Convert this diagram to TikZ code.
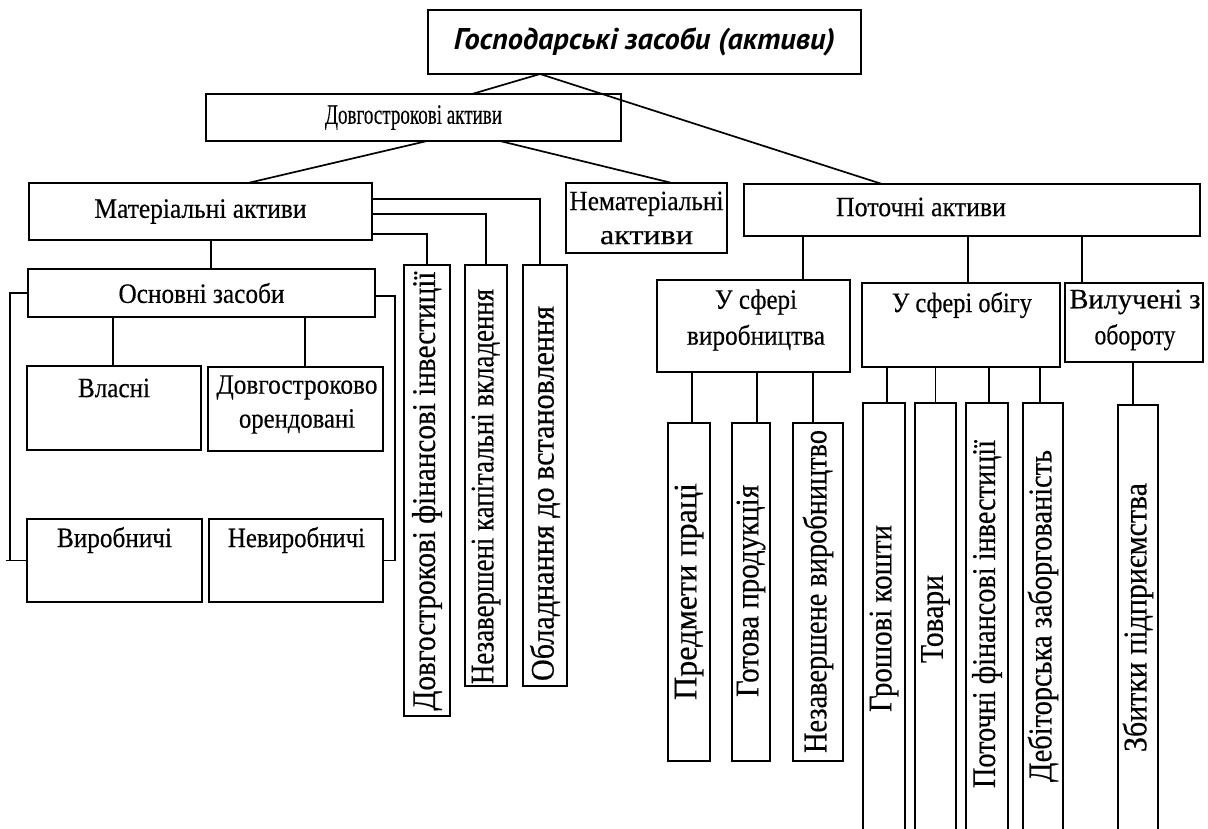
\documentclass[tikz,border=0pt]{standalone}
\usepackage{fontspec}
\usepackage{graphicx}
\setmainfont{Liberation Serif}[FakeBold=0.4]
\newfontfamily\titlefont{PT Sans}
% squeeze a label to a given width, keeping its height
\newcommand\sqz[2]{\resizebox{#1}{\height}{#2}}

\begin{document}
\begin{tikzpicture}[x=1pt,y=-1pt,
  box/.style={draw, line width=1.7pt, rectangle, inner sep=0pt, outer sep=0pt,
              align=center, font=\fontsize{28}{34}\selectfont},
  vbox/.style={draw, line width=1.7pt, rectangle, inner sep=0pt, outer sep=0pt},
  lbl/.style={inner sep=0pt, align=center, font=\fontsize{28}{34}\selectfont},
  vlabel/.style={rotate=90, inner sep=0pt, font=\fontsize{33}{33}\selectfont},
  link/.style={line width=1.7pt},
]
\useasboundingbox (0,0) rectangle (1208,828);
\fill[white] (0,0) rectangle (1208,828);
\clip (0,0) rectangle (1208,828);

% --- top levels
\node[box, minimum width=433pt, minimum height=64pt] (top) at (644.5,42)
  {\titlefont\bfseries\itshape\fontsize{30}{30}\selectfont\sqz{381pt}{Господарські засоби (активи)}};
\node[box, minimum width=415pt, minimum height=47pt] (dlg) at (413.5,117.5)
  {\sqz{177pt}{Довгострокові активи}};
\node[box, minimum width=343pt, minimum height=57pt] (mat) at (200.5,211.5)
  {\sqz{212pt}{Матеріальні активи}};
\node[box, minimum width=161pt, minimum height=70pt] (nemat) at (646.5,218)
  {\sqz{154pt}{Нематеріальні}\\\sqz{93pt}{активи}};
\node[box, minimum width=456pt, minimum height=52pt] (pot) at (972,210) {};
\node[lbl] (pot-t) at (921,207) {\sqz{170pt}{Поточні активи}};

% --- fixed assets
\node[box, minimum width=347pt, minimum height=48pt] (osn) at (201.5,293)
  {\sqz{166pt}{Основні засоби}};
\node[box, minimum width=174pt, minimum height=84pt] (vlas) at (114,408) {};
\node[lbl] (vlas-t) at (114,388) {\sqz{72pt}{Власні}};
\node[box, minimum width=175pt, minimum height=84pt] (dor) at (295.5,409) {};
\node[lbl] (dor-t) at (297,404.5) {\sqz{161pt}{Довгостроково}\\\sqz{116pt}{орендовані}};
\node[box, minimum width=175pt, minimum height=83pt] (vyr) at (114.5,560.5) {};
\node[lbl] (vyr-t) at (114.5,540) {\sqz{115pt}{Виробничі}};
\node[box, minimum width=174pt, minimum height=83pt] (nevyr) at (296,560.5) {};
\node[lbl] (nevyr-t) at (296.5,540) {\sqz{137pt}{Невиробничі}};

% --- other long-term items (upright columns)
\node[vbox, minimum width=46pt, minimum height=451pt] (dfi) at (427,490.5) {};
\node[vlabel] (dfi-t) at (427,491) {\sqz{439pt}{Довгострокові фінансові інвестиції}};
\node[vbox, minimum width=42pt, minimum height=421pt] (nkv) at (486,475.5) {};
\node[vlabel] (nkv-t) at (486,486.5) {\sqz{395pt}{Незавершені капітальні вкладення}};
\node[vbox, minimum width=44pt, minimum height=421pt] (obl) at (545,475.5) {};
\node[vlabel] (obl-t) at (545,493.5) {\sqz{375pt}{Обладнання до встановлення}};

% --- current assets
\node[box, minimum width=193pt, minimum height=92pt] (vyrob) at (753.5,326) {};
\node[lbl, font=\fontsize{28}{36}\selectfont] (vyrob-t) at (756,320)
  {\sqz{82pt}{У сфері}\\\sqz{138pt}{виробництва}};
\node[box, minimum width=198pt, minimum height=84pt] (obig) at (961,325) {};
\node[lbl] (obig-t) at (962,305) {\sqz{140pt}{У сфері обігу}};
\node[box, minimum width=138pt, minimum height=79pt] (vyl) at (1134,322.5) {};
\node[lbl, font=\fontsize{28}{36}\selectfont] (vyl-t) at (1135,320)
  {\sqz{131pt}{Вилучені з}\\\sqz{81pt}{обороту}};

\node[vbox, minimum width=42pt, minimum height=338pt] (pp) at (689,592) {};
\node[vlabel] (pp-t) at (689,591.5) {\sqz{217pt}{Предмети праці}};
\node[vbox, minimum width=38pt, minimum height=338pt] (gp) at (751,592) {};
\node[vlabel] (gp-t) at (751,591) {\sqz{212pt}{Готова продукція}};
\node[vbox, minimum width=50pt, minimum height=338pt] (nvr) at (818,592) {};
\node[vlabel] (nvr-t) at (818,591.5) {\sqz{323pt}{Незавершене виробництво}};

\node[vbox, minimum width=42pt, minimum height=440pt] (gk) at (884,623) {};
\node[vlabel] (gk-t) at (884,618.5) {\sqz{187pt}{Грошові кошти}};
\node[vbox, minimum width=41pt, minimum height=440pt] (tov) at (935.5,623) {};
\node[vlabel] (tov-t) at (935.5,619) {\sqz{88pt}{Товари}};
\node[vbox, minimum width=42pt, minimum height=440pt] (pfi) at (987,623) {};
\node[vlabel] (pfi-t) at (987,614) {\sqz{348pt}{Поточні фінансові інвестиції}};
\node[vbox, minimum width=40pt, minimum height=440pt] (deb) at (1043,623) {};
\node[vlabel] (deb-t) at (1043,616) {\sqz{332pt}{Дебіторська заборгованість}};
\node[vbox, minimum width=40pt, minimum height=440pt] (zb) at (1138,625) {};
\node[vlabel] (zb-t) at (1138,617.5) {\sqz{269pt}{Збитки підприємства}};

% --- connectors
\draw[link] ([xshift=112pt]top.south west) coordinate (j0) -- ([xshift=266pt]dlg.north west);
\draw[link] (j0) -- ([xshift=138pt]pot.north west);
\draw[link] ([xshift=221pt]dlg.south west) -- ([xshift=219pt]mat.north west);
\draw[link] ([xshift=294pt]dlg.south west) -- ([xshift=106pt]nemat.north west);
\draw[link] ([yshift=-51pt]mat.north east) -| (dfi.north);
\draw[link] ([yshift=-31pt]mat.north east) -| (nkv.north);
\draw[link] ([yshift=-16pt]mat.north east) -| ([xshift=-5pt]obl.north);
\draw[link] ([xshift=182pt]mat.south west) -- ([xshift=183pt]osn.north west);
\draw[link] ([xshift=85pt]osn.south west) -- ([xshift=86pt]vlas.north west);
\draw[link] ([xshift=277pt]osn.south west) -- ([xshift=97pt]dor.north west);
\draw[link] (osn.west) -| ([xshift=-17pt]vyr.west) -- (vyr.west);
\draw[link] ([xshift=-21pt]vyr.west) -- ([xshift=-17pt]vyr.west);
\draw[link] ([yshift=-3pt]osn.east) -| ([xshift=12pt]nevyr.east) -- (nevyr.east);
\draw[link] ([xshift=59pt]pot.south west) -- ([xshift=146pt]vyrob.north west);
\draw[link] ([xshift=224pt]pot.south west) -- ([xshift=106pt]obig.north west);
\draw[link] ([xshift=338pt]pot.south west) -- ([xshift=17pt]vyl.north west);
\draw[link] ([xshift=3pt]pp.north) -- ([xshift=3pt]pp.north |- vyrob.south);
\draw[link] ([xshift=6pt]gp.north) -- ([xshift=6pt]gp.north |- vyrob.south);
\draw[link] ([xshift=-5pt]nvr.north) -- ([xshift=-5pt]nvr.north |- vyrob.south);
\draw[link] ([xshift=3pt]gk.north) -- ([xshift=3pt]gk.north |- obig.south);
\draw[link] (tov.north) -- (tov.north |- obig.south);
\draw[link] ([xshift=2pt]pfi.north) -- ([xshift=2pt]pfi.north |- obig.south);
\draw[link] ([xshift=-3pt]deb.north) -- ([xshift=-3pt]deb.north |- obig.south);
\draw[link] ([xshift=-5pt]zb.north) -- ([xshift=-5pt]zb.north |- vyl.south);
\end{tikzpicture}
\end{document}
